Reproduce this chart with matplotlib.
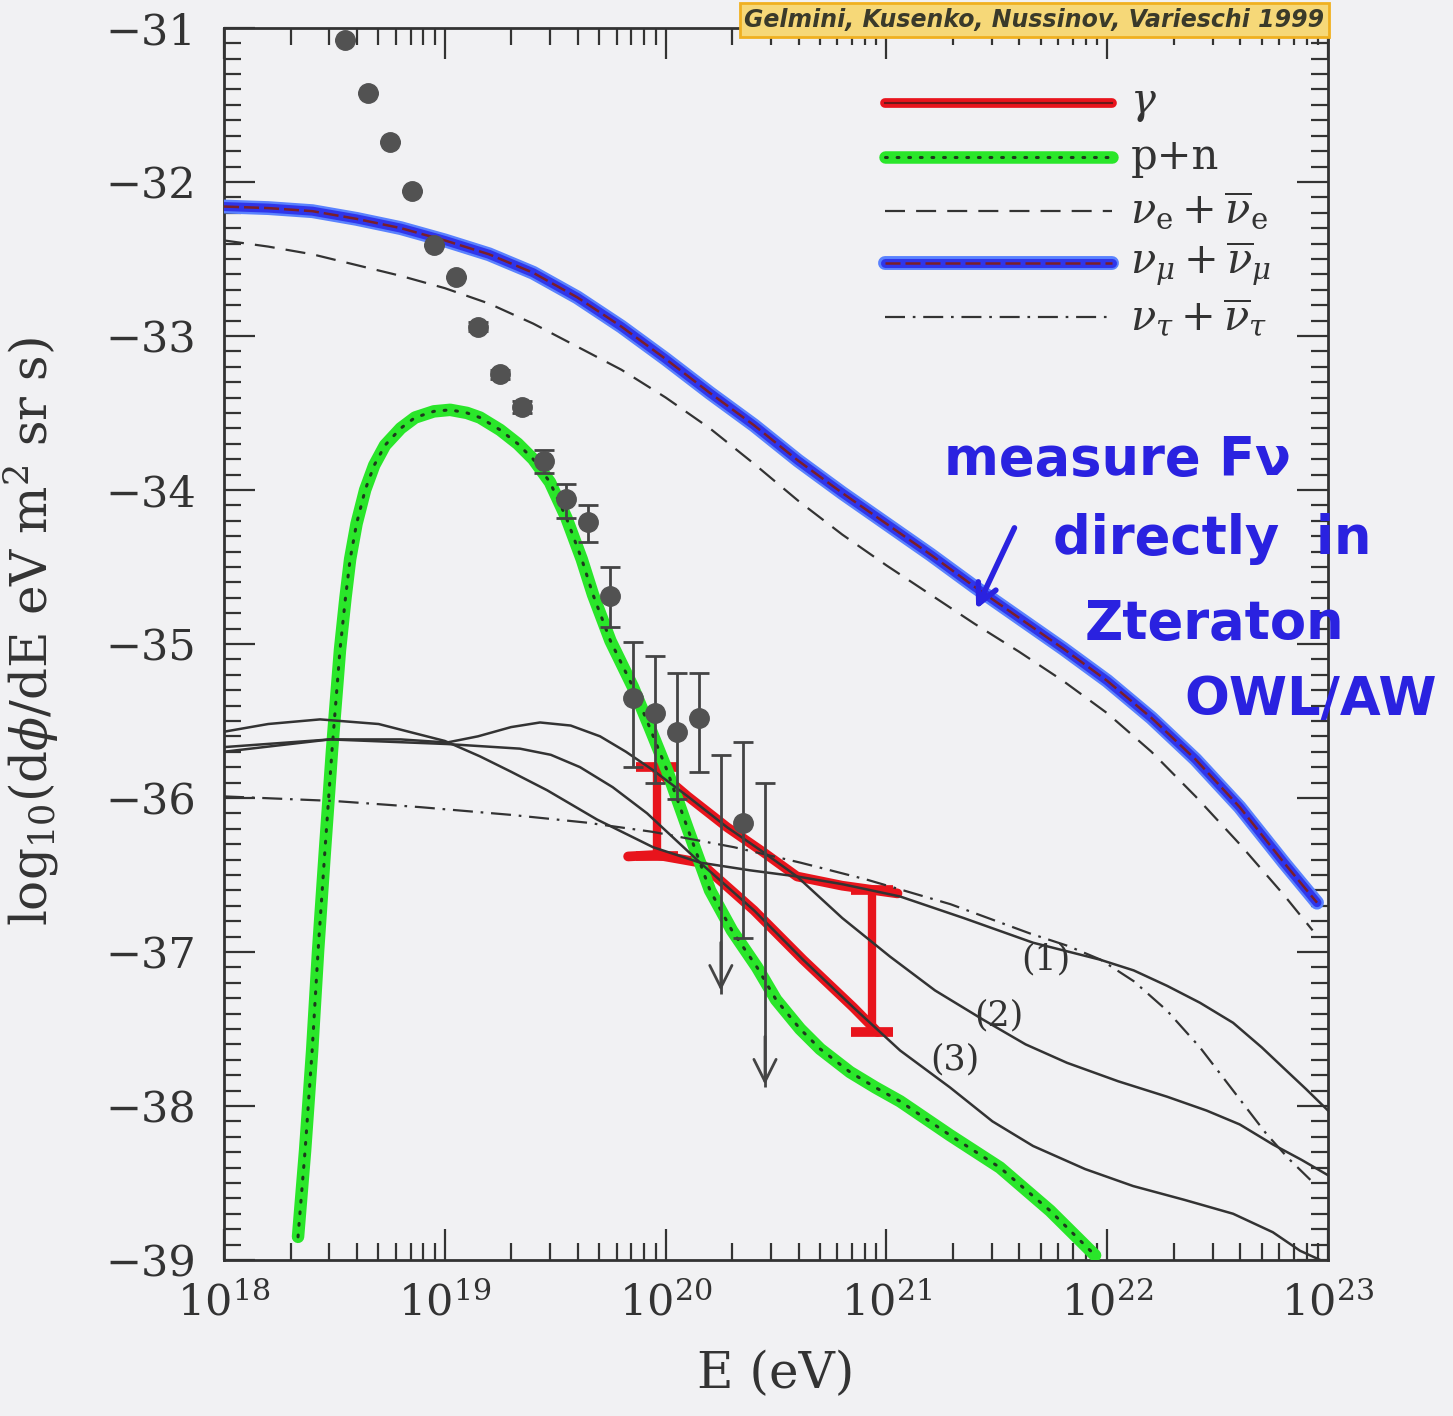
import numpy as np
import matplotlib
matplotlib.use("Agg")
import matplotlib.pyplot as plt
from matplotlib.ticker import MultipleLocator, LogLocator, NullFormatter

plt.rcParams['font.family'] = 'DejaVu Serif'
plt.rcParams['mathtext.fontset'] = 'dejavuserif'

# ---- data (log10 E in eV, log10 flux) ----
nu_mu_logE = [18.0, 18.2, 18.4, 18.6, 18.8, 19.0, 19.2, 19.4, 19.6, 19.8, 20.0, 20.2, 20.4, 20.6, 20.8,
              21.0, 21.2, 21.4, 21.6, 21.8, 22.0, 22.2, 22.4, 22.6, 22.8, 22.95]
nu_mu_flux = [-32.16, -32.17, -32.19, -32.24, -32.30, -32.38, -32.47, -32.59, -32.75, -32.94, -33.15, -33.37,
              -33.58, -33.81, -34.02, -34.22, -34.42, -34.63, -34.83, -35.03, -35.24, -35.48, -35.75, -36.06,
              -36.42, -36.68]

nu_e_logE = [18.0, 18.2, 18.4, 18.6, 18.8, 19.0, 19.2, 19.4, 19.6, 19.8, 20.0, 20.2, 20.4, 20.6, 20.8,
             21.0, 21.2, 21.4, 21.6, 21.8, 22.0, 22.2, 22.4, 22.6, 22.8, 22.93]
nu_e_flux = [-32.38, -32.42, -32.47, -32.54, -32.61, -32.69, -32.79, -32.92, -33.07, -33.22, -33.40, -33.60,
             -33.83, -34.07, -34.29, -34.49, -34.68, -34.87, -35.05, -35.24, -35.45, -35.70, -35.99, -36.30,
             -36.63, -36.86]

nu_tau_logE = [18.0, 18.5, 18.89, 19.3, 19.64, 19.94, 20.31, 20.61, 20.91, 21.29, 21.65, 21.82, 21.97, 22.12,
               22.27, 22.42, 22.57, 22.72, 22.82, 22.92]
nu_tau_flux = [-35.99, -36.02, -36.06, -36.11, -36.16, -36.22, -36.32, -36.42, -36.53, -36.69, -36.88, -36.96,
               -37.05, -37.19, -37.38, -37.62, -37.90, -38.18, -38.34, -38.48]

pn_logE = [18.335, 18.367, 18.399, 18.426, 18.457, 18.489, 18.525, 18.55, 18.571, 18.60, 18.639, 18.68, 18.729,
           18.8, 18.865, 18.95, 19.024, 19.10, 19.159, 19.25, 19.33, 19.40, 19.476, 19.55, 19.62, 19.671, 19.75,
           19.852, 19.93, 20.006, 20.1, 20.201, 20.3, 20.414, 20.5, 20.609, 20.7, 20.835, 20.95, 21.062, 21.288,
           21.514, 21.741, 21.945]
pn_flux = [-38.85, -38.29, -37.64, -36.99, -36.34, -35.69, -35.04, -34.70, -34.45, -34.22, -34.00, -33.84, -33.71,
           -33.60, -33.53, -33.49, -33.48, -33.50, -33.53, -33.61, -33.70, -33.80, -33.95, -34.18, -34.45, -34.68,
           -34.98, -35.28, -35.55, -35.82, -36.20, -36.60, -36.86, -37.10, -37.31, -37.50, -37.63, -37.78, -37.88,
           -37.97, -38.19, -38.40, -38.68, -38.97]

gam1_logE = [18.0, 18.2, 18.435, 18.7, 19.0, 19.159, 19.3, 19.463, 19.689, 19.943, 20.156, 20.382, 20.595,
             20.8, 21.062, 21.35, 21.664, 21.967, 22.12, 22.271, 22.42, 22.57, 22.7, 22.796, 22.9, 23.0]
gam1_flux = [-35.57, -35.52, -35.49, -35.52, -35.63, -35.73, -35.83, -35.95, -36.14, -36.32, -36.42, -36.47,
             -36.51, -36.56, -36.64, -36.78, -36.94, -37.05, -37.12, -37.22, -37.33, -37.46, -37.62, -37.75,
             -37.89, -38.03]

gam2_logE = [18.0, 18.48, 18.8, 19.01, 19.15, 19.3, 19.431, 19.57, 19.703, 19.82, 19.943, 20.1, 20.278, 20.44,
             20.595, 20.8, 21.016, 21.22, 21.438, 21.63, 21.818, 22.05, 22.271, 22.45, 22.6, 22.75, 22.88, 23.0]
gam2_flux = [-35.67, -35.62, -35.62, -35.64, -35.60, -35.54, -35.51, -35.53, -35.60, -35.70, -35.82, -35.99,
             -36.19, -36.35, -36.51, -36.78, -37.03, -37.25, -37.44, -37.60, -37.72, -37.84, -37.94, -38.03,
             -38.12, -38.25, -38.35, -38.45]

gam3_logE = [18.0, 18.48, 19.01, 19.34, 19.48, 19.612, 19.76, 19.916, 20.156, 20.4, 20.622, 20.85, 21.062,
             21.288, 21.48, 21.664, 21.9, 22.117, 22.35, 22.57, 22.75, 22.873, 22.964]
gam3_flux = [-35.70, -35.62, -35.65, -35.68, -35.72, -35.80, -35.93, -36.10, -36.42, -36.73, -37.05, -37.36,
             -37.64, -37.88, -38.10, -38.26, -38.41, -38.52, -38.61, -38.70, -38.82, -38.94, -39.0]

# hand-drawn red gamma band
band_hi_logE = [19.96, 20.1, 20.278, 20.44, 20.595, 20.80, 21.05]
band_hi_flux = [-35.82, -35.99, -36.19, -36.35, -36.51, -36.57, -36.62]
band_lo_logE = [19.83, 19.96, 20.156, 20.4, 20.622, 20.85, 20.96]
band_lo_flux = [-36.38, -36.37, -36.42, -36.73, -37.05, -37.36, -37.52]
band_bar_logE = [19.96, 20.935]
band_bar_top = [-35.80, -36.60]
band_bar_bot = [-36.38, -37.52]

# cosmic ray data
cr_logE = [18.55, 18.65, 18.75, 18.85, 18.95, 19.05, 19.15, 19.25, 19.35, 19.45, 19.55, 19.65, 19.75,
           19.85, 19.95, 20.05, 20.15, 20.35]
cr_flux = [-31.08, -31.42, -31.74, -32.06, -32.41, -32.62, -32.94, -33.25, -33.46, -33.81, -34.06, -34.21,
           -34.69, -35.35, -35.45, -35.57, -35.48, -36.16]
cr_err_up = [0, 0, 0, 0, 0, 0, 0.03, 0.03, 0.04, 0.07, 0.10, 0.11, 0.19, 0.36, 0.37, 0.38, 0.29, 0.52]
cr_err_dn = [0, 0, 0, 0, 0, 0, 0.03, 0.03, 0.04, 0.08, 0.12, 0.13, 0.20, 0.45, 0.45, 0.44, 0.35, 0.75]
lim_logE = [20.25, 20.45]
lim_top = [-35.72, -35.90]
lim_tip = [-37.27, -37.88]


def E(a):
    return 10 ** np.asarray(a)


RED = '#e8141c'
GREEN = '#2ae62a'
BLUE = '#2f35ea'
LBLUE = '#5a82ff'
INK = '#333333'
BG = '#f1f1f3'

fig = plt.figure(figsize=(14.53, 14.16), dpi=100)
fig.patch.set_facecolor(BG)
ax = fig.add_axes([0.1542, 0.1102, 0.7598, 0.8701])
ax.set_facecolor(BG)
ax.set_xscale('log')

# red band (under the black curves)
ax.plot(E(band_hi_logE), band_hi_flux, color=RED, lw=7, solid_capstyle='round', zorder=2)
ax.plot(E(band_lo_logE), band_lo_flux, color=RED, lw=7, solid_capstyle='round', zorder=2)
ax.vlines(E(band_bar_logE), band_bar_bot, band_bar_top, color=RED, lw=6, zorder=2)
ax.plot(E(band_bar_logE), band_bar_top, ls='none', marker='_', ms=30, mew=7, color=RED, zorder=2)
ax.plot(E(band_bar_logE), band_bar_bot, ls='none', marker='_', ms=30, mew=7, color=RED, zorder=2)

# gamma curves
for lx, ly in [(gam1_logE, gam1_flux), (gam2_logE, gam2_flux), (gam3_logE, gam3_flux)]:
    ax.plot(E(lx), ly, color=INK, lw=1.8, zorder=4)

# neutrinos
ax.plot(E(nu_e_logE), nu_e_flux, color=INK, lw=1.6, ls=(0, (9, 5)), zorder=4)
ax.plot(E(nu_tau_logE), nu_tau_flux, color=INK, lw=1.6, ls=(0, (9, 3.5, 1.2, 3.5)), zorder=4)
ax.plot(E(nu_mu_logE), nu_mu_flux, color=LBLUE, lw=10, solid_capstyle='round', zorder=3)
ax.plot(E(nu_mu_logE), nu_mu_flux, color=BLUE, lw=6.5, solid_capstyle='round', zorder=3)
ax.plot(E(nu_mu_logE), nu_mu_flux, color='#7a1f2a', lw=1.8, ls=(0, (6, 2)), zorder=4)

# p + n
ax.plot(E(pn_logE), pn_flux, color=GREEN, lw=9, solid_capstyle='round', zorder=3)
ax.plot(E(pn_logE), pn_flux, color='#1c3a1c', lw=2.2, ls=(0, (0.6, 3.2)), dash_capstyle='round', zorder=4)

# data points
ax.errorbar(E(cr_logE), cr_flux, yerr=[cr_err_dn, cr_err_up], fmt='o', ms=14, color='#525252',
            ecolor='#444444', elinewidth=2, capsize=7, capthick=2, zorder=5)
ax.vlines(E(lim_logE), lim_tip, lim_top, color='#444444', lw=2, zorder=5)
ax.plot(E(lim_logE), lim_top, ls='none', marker='_', ms=15, mew=2, color='#444444', zorder=5)
for x, t in zip(lim_logE, lim_tip):
    ax.annotate('', xy=(10 ** x, t), xytext=(10 ** x, t + 0.35),
                arrowprops=dict(arrowstyle='->', color='#444444', lw=2, mutation_scale=40), zorder=5)

# curve labels
ax.text(10 ** 21.72, -37.05, '(1)', fontsize=25, ha='center', va='center', color=INK)
ax.text(10 ** 21.51, -37.41, '(2)', fontsize=25, ha='center', va='center', color=INK)
ax.text(10 ** 21.31, -37.70, '(3)', fontsize=25, ha='center', va='center', color=INK)

# legend drawn by hand
rows = [0.939, 0.895, 0.851, 0.809, 0.765]
x0, x1 = 0.599, 0.804
tr = ax.transAxes
ax.plot([x0, x1], [rows[0]] * 2, transform=tr, color=RED, lw=7, solid_capstyle='round')
ax.plot([x0, x1], [rows[0]] * 2, transform=tr, color='#6a1a1a', lw=1.5)
ax.plot([x0, x1], [rows[1]] * 2, transform=tr, color=GREEN, lw=9, solid_capstyle='round')
ax.plot([x0, x1], [rows[1]] * 2, transform=tr, color='#1c3a1c', lw=2.2, ls=(0, (0.6, 3.2)), dash_capstyle='round')
ax.plot([x0, x1], [rows[2]] * 2, transform=tr, color=INK, lw=1.6, ls=(0, (9, 5)))
ax.plot([x0, x1], [rows[3]] * 2, transform=tr, color=LBLUE, lw=10, solid_capstyle='round')
ax.plot([x0, x1], [rows[3]] * 2, transform=tr, color=BLUE, lw=6.5, solid_capstyle='round')
ax.plot([x0, x1], [rows[3]] * 2, transform=tr, color='#7a1f2a', lw=1.8, ls=(0, (6, 2)))
ax.plot([x0, x1], [rows[4]] * 2, transform=tr, color=INK, lw=1.6, ls=(0, (9, 3.5, 1.2, 3.5)))
labels = [r'$\gamma$', 'p+n', r'$\nu_{\rm e}+\overline{\nu}_{\rm e}$',
          r'$\nu_\mu+\overline{\nu}_\mu$', r'$\nu_\tau+\overline{\nu}_\tau$']
for r, lab in zip(rows, labels):
    ax.text(0.821, r, lab, transform=tr, fontsize=30, va='center', ha='left', color=INK)

# axes, ticks
ax.set_xlim(1e18, 1e23)
ax.set_ylim(-39, -31)
ax.yaxis.set_major_locator(MultipleLocator(1))
ax.yaxis.set_minor_locator(MultipleLocator(0.1))
ax.xaxis.set_major_locator(LogLocator(base=10, numticks=10))
ax.xaxis.set_minor_locator(LogLocator(base=10, subs=np.arange(2, 10), numticks=20))
ax.xaxis.set_minor_formatter(NullFormatter())
ax.tick_params(which='both', direction='in', top=True, right=True, color=INK, width=1.6)
ax.tick_params(which='major', length=22)
ax.tick_params(which='minor', length=12)
ax.tick_params(axis='y', which='major', labelsize=31, pad=20, labelcolor=INK)
ax.tick_params(axis='x', which='major', labelsize=31, pad=16, labelcolor=INK)
for s in ax.spines.values():
    s.set_color(INK)
    s.set_linewidth(2)

ax.set_xlabel('E (eV)', fontsize=36, color=INK, labelpad=18)
ax.set_ylabel(r'log$_{10}$(d$\phi$/dE eV m$^2$ sr s)', fontsize=36, color=INK)
ax.yaxis.set_label_coords(-0.148, 0.51)

# citation tag at the top
fig.text(0.712, 0.986, 'Gelmini, Kusenko, Nussinov, Varieschi 1999', fontsize=17, style='italic',
         fontweight='bold', family='DejaVu Sans', color='#3a3a2a', ha='center', va='center',
         bbox=dict(boxstyle='square,pad=0.2', facecolor='#f6d878', edgecolor='#f0b020', lw=2))

# handwritten note
hand = dict(color='#2a22e0', fontweight='bold', family='DejaVu Sans', fontsize=38, ha='center', va='center')
fig.text(0.769, 0.675, 'measure F\u03bd', **hand)
fig.text(0.834, 0.619, 'directly  in', **hand)
fig.text(0.836, 0.559, 'Zteraton', **hand)
fig.text(0.902, 0.506, 'OWL/AW', **hand)
fig.add_artist(matplotlib.patches.FancyArrowPatch((0.699, 0.629), (0.671, 0.568), transform=fig.transFigure,
               arrowstyle='->', mutation_scale=35, color='#2a22e0', lw=4))

fig.savefig('out.png', dpi=100, facecolor=BG)
